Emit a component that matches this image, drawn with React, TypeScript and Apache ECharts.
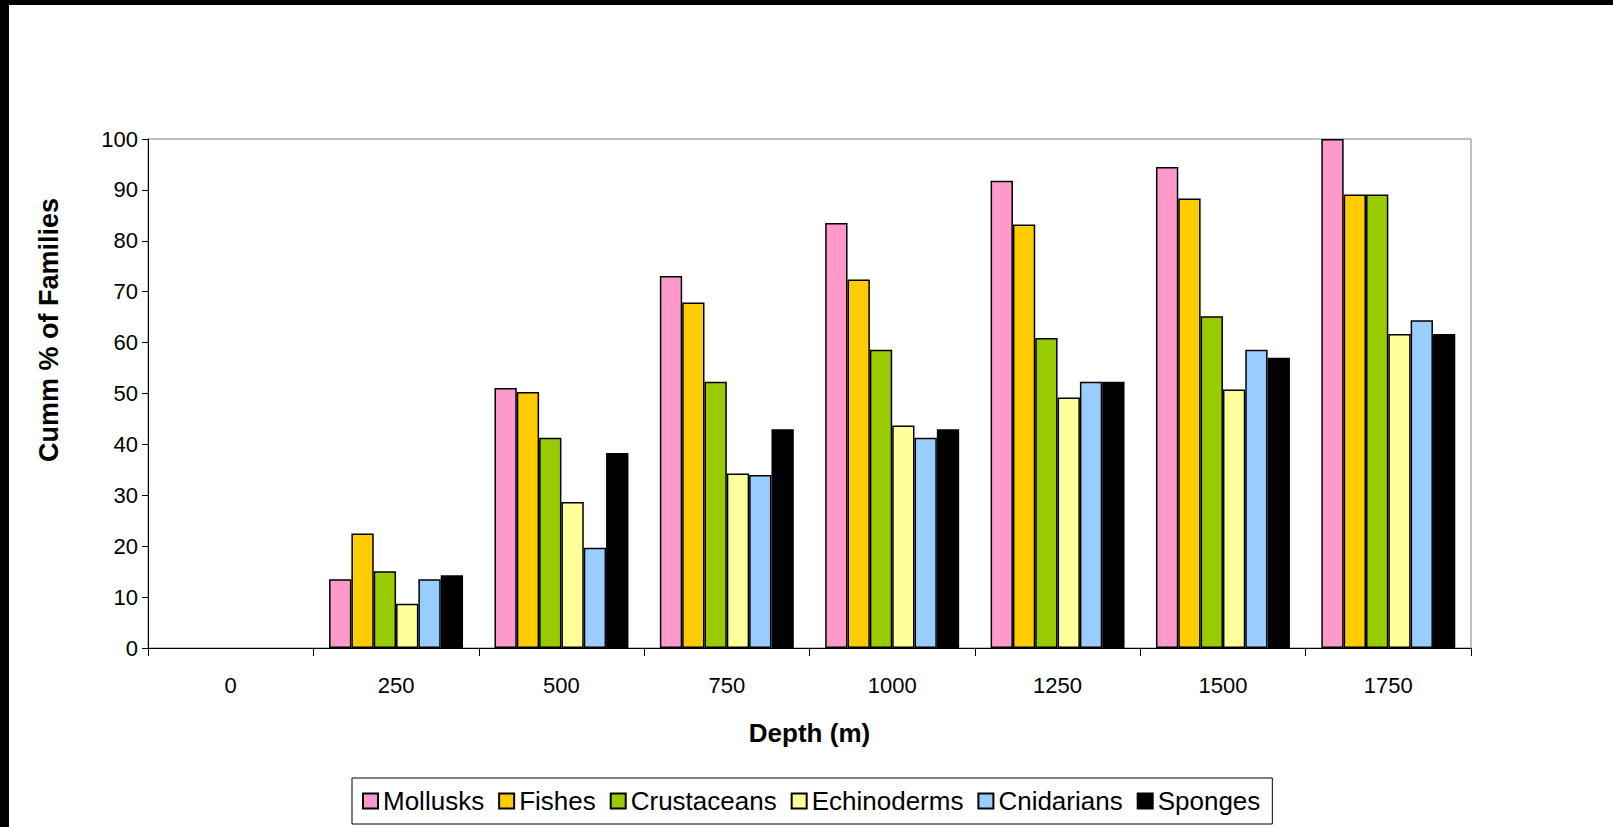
import React, { useEffect, useRef } from "react";
import * as echarts from "echarts";

const categories = ["0", "250", "500", "750", "1000", "1250", "1500", "1750"];
const seriesNames = ["Mollusks", "Fishes", "Crustaceans", "Echinoderms", "Cnidarians", "Sponges"];
const colors = ["#FF99CC", "#FFCC00", "#99CC00", "#FFFF99", "#99CCFF", "#000000"];

const mollusks = [0, 13.5, 51.1, 73.1, 83.5, 91.8, 94.5, 100];
const fishes = [0, 22.5, 50.3, 67.9, 72.4, 83.2, 88.3, 89.1];
const crustaceans = [0, 15.1, 41.3, 52.3, 58.6, 60.9, 65.2, 89.1];
const echinoderms = [0, 8.7, 28.7, 34.3, 43.7, 49.2, 50.8, 61.7];
const cnidarians = [0, 13.5, 19.7, 34.0, 41.3, 52.3, 58.6, 64.4];
const sponges = [0, 14.3, 38.3, 43.0, 43.0, 52.3, 57.0, 61.7];

const yTicks = [0, 10, 20, 30, 40, 50, 60, 70, 80, 90, 100];
const yTitle = "Cumm % of Families";
const xTitle = "Depth (m)";

const allData = [mollusks, fishes, crustaceans, echinoderms, cnidarians, sponges];

export default function App() {
  const ref = useRef<HTMLDivElement>(null);
  useEffect(() => {
    if (!ref.current) return;
    const chart = echarts.init(ref.current, null, { renderer: "svg" });
    const font = "Liberation Sans, Arial, sans-serif";
    chart.setOption({
      animation: false,
      backgroundColor: "#ffffff",
      textStyle: { fontFamily: font },
      graphic: [
        { type: "rect", left: 0, top: 0, shape: { x: 0, y: 0, width: 1613, height: 5 }, style: { fill: "#000" } },
        { type: "rect", left: 0, top: 0, shape: { x: 0, y: 0, width: 9, height: 827 }, style: { fill: "#000" } },
        {
          type: "text",
          x: 49,
          y: 330,
          rotation: Math.PI / 2,
          style: {
            text: yTitle,
            fontSize: 27,
            fontWeight: "bold",
            fontFamily: font,
            fill: "#000",
            align: "center",
            verticalAlign: "middle",
          },
        },
      ],
      grid: {
        left: 148,
        right: 142,
        top: 139,
        bottom: 179,
        show: true,
        borderColor: "#808080",
        borderWidth: 1,
        backgroundColor: "#ffffff",
      },
      legend: {
        data: seriesNames,
        left: 352,
        top: 778,
        orient: "horizontal",
        borderColor: "#000",
        borderWidth: 1,
        padding: [10, 12, 10, 10],
        itemGap: 14,
        itemWidth: 15,
        itemHeight: 15,
        icon: "rect",
        textStyle: { fontSize: 26, color: "#000", fontFamily: font },
      },
      xAxis: {
        type: "category",
        data: categories,
        name: xTitle,
        nameLocation: "middle",
        nameGap: 72,
        nameTextStyle: { fontSize: 26, fontWeight: "bold", color: "#000", fontFamily: font },
        axisLine: { lineStyle: { color: "#000", width: 1 } },
        axisTick: { show: true, length: 8, interval: 0, alignWithLabel: false, lineStyle: { color: "#000" } },
        axisLabel: { fontSize: 22, color: "#000", margin: 26, fontFamily: font },
        splitLine: { show: false },
      },
      yAxis: {
        type: "value",
        min: 0,
        max: 100,
        interval: 10,
        axisLine: { show: true, lineStyle: { color: "#000", width: 1 } },
        axisTick: { show: true, length: 6, lineStyle: { color: "#000" } },
        axisLabel: {
          fontSize: 22,
          color: "#000",
          margin: 10,
          fontFamily: font,
          formatter: (v: number) => (yTicks.includes(v) ? String(v) : ""),
        },
        splitLine: { show: false },
      },
      series: seriesNames.map((name, i) => ({
        name,
        type: "bar",
        data: allData[i].map((v) => (v === 0 ? { value: v, itemStyle: { borderWidth: 0, opacity: 0 } } : v)),
        barGap: "0%",
        barCategoryGap: "19%",
        itemStyle: { color: colors[i], borderColor: "#000", borderWidth: 1.5 },
      })),
    });
    return () => chart.dispose();
  }, []);
  return (
    <div
      ref={ref}
      style={{ position: "fixed", left: 0, top: 0, width: 1613, height: 827 }}
    />
  );
}
